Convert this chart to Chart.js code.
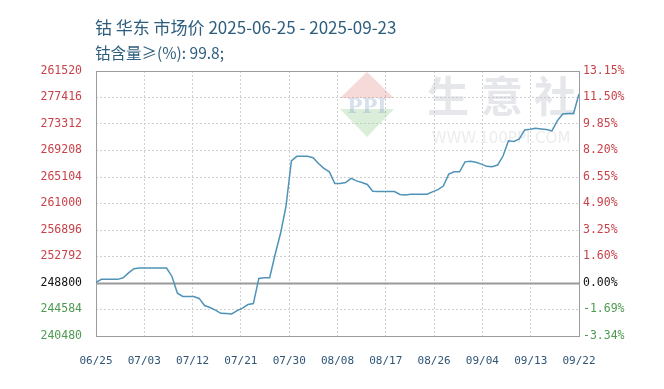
<!DOCTYPE html>
<html>
<head>
<meta charset="utf-8">
<script src="https://cdn.jsdelivr.net/npm/chart.js@4/dist/chart.umd.min.js"></script>
<style>
  html, body { margin: 0; padding: 0; background: #ffffff; }
  #wrap { position: relative; width: 664px; height: 389px; overflow: hidden; }
  canvas { position: absolute; left: 0; top: 0; }
  .t { position: absolute; left: 95px; font-family: "Noto Sans CJK SC", "Noto Sans", sans-serif; color: #2e5e7e; white-space: nowrap; }
  #t1 { top: 16px; font-size: 17px; line-height: 22px; }
  #t2 { top: 41px; font-size: 15.5px; line-height: 22px; }
</style>
</head>
<body>
<div id="wrap">
  <canvas id="c" width="664" height="389"></canvas>
  <div class="t" id="t1">钴 华东 市场价 2025-06-25 - 2025-09-23</div>
  <div class="t" id="t2">钴含量≥(%): 99.8;</div>
</div>
<script>
// ---- data ----
const categories = [
  '06/25','06/26','06/27','06/28','06/29','06/30',
  '07/01','07/02','07/03','07/04','07/05','07/06','07/07','07/08','07/09','07/10',
  '07/11','07/12','07/13','07/14','07/15','07/16','07/17','07/18','07/19','07/20',
  '07/21','07/22','07/23','07/24','07/25','07/26','07/27','07/28','07/29','07/30','07/31',
  '08/01','08/02','08/03','08/04','08/05','08/06','08/07','08/08','08/09','08/10',
  '08/11','08/12','08/13','08/14','08/15','08/16','08/17','08/18','08/19','08/20',
  '08/21','08/22','08/23','08/24','08/25','08/26','08/27','08/28','08/29','08/30','08/31',
  '09/01','09/02','09/03','09/04','09/05','09/06','09/07','09/08','09/09','09/10',
  '09/11','09/12','09/13','09/14','09/15','09/16','09/17','09/18','09/19','09/20','09/21','09/22'
];
const prices = [
  248800, 249250, 249250, 249250, 249250, 249500, 250250, 250900, 251000, 251000,
  251000, 251000, 251000, 251000, 249700, 247100, 246600, 246600, 246600, 246300,
  245200, 244900, 244500, 244000, 243950, 243900, 244400, 244800, 245350, 245500,
  249400, 249500, 249500, 253100, 256350, 260500, 267600, 268300, 268300, 268300,
  268100, 267200, 266450, 265900, 264100, 264100, 264250, 264900, 264500, 264250,
  263950, 262900, 262850, 262850, 262850, 262850, 262400, 262300, 262450, 262450,
  262450, 262450, 262800, 263150, 263700, 265550, 265900, 265900, 267450, 267550,
  267400, 267100, 266750, 266700, 266950, 268350, 270700, 270600, 271000, 272400,
  272500, 272650, 272550, 272450, 272250, 273800, 274850, 274950, 274950, 277950
];
const xTickLabels = ['06/25','07/03','07/12','07/21','07/30','08/08','08/17','08/26','09/04','09/13','09/22'];
// left axis: tick values (bottom to top) and the labels printed on them
const leftTickValues = [240480, 244584, 248688, 252792, 256896, 261000, 265104, 269208, 273312, 277416, 281520];
const leftTickLabels = ['240480','244584','248800','252792','256896','261000','265104','269208','273312','277416','261520'];
// right axis: percent change labels (bottom to top)
const rightTickLabels = ['-3.34%','-1.69%','0.00%','1.60%','3.25%','4.90%','6.55%','8.20%','9.85%','11.50%','13.15%'];
const rightMin = -3.34, rightMax = 13.15;

const RED = '#c8424a', GREEN = '#4f9a52', BLACK = '#111111';
function tickColor(i) { return i < 2 ? GREEN : (i === 2 ? BLACK : RED); }

const xTickPos = xTickLabels.map((_, i) => i * (categories.length - 1) / (xTickLabels.length - 1));

const decor = {
  id: 'decor',
  beforeDatasetsDraw(chart) {
    const { ctx, chartArea: a, scales } = chart;
    ctx.save();
    // watermark logo
    const cx = 367, cy = 101;
    ctx.beginPath(); ctx.moveTo(cx, cy - 29); ctx.lineTo(cx + 27, cy - 3); ctx.lineTo(cx - 27, cy - 3); ctx.closePath();
    ctx.fillStyle = 'rgba(230,150,150,0.35)'; ctx.fill();
    ctx.beginPath(); ctx.moveTo(cx - 27, cy + 8); ctx.lineTo(cx + 27, cy + 8); ctx.lineTo(cx, cy + 36); ctx.closePath();
    ctx.fillStyle = 'rgba(150,205,150,0.35)'; ctx.fill();
    ctx.fillStyle = 'rgba(140,165,200,0.35)';
    ctx.font = 'bold 20px "DejaVu Serif", serif';
    ctx.textAlign = 'center'; ctx.textBaseline = 'middle';
    ctx.fillText('PPI', cx, cy + 7);
    ctx.fillStyle = 'rgba(190,195,205,0.40)';
    ctx.font = 'bold 42px "Noto Sans CJK SC", sans-serif';
    ctx.fillText('生', 448, 96);
    ctx.fillText('意', 502, 96);
    ctx.fillText('社', 555, 96);
    ctx.fillStyle = 'rgba(200,200,205,0.35)';
    ctx.font = '15px "DejaVu Sans", sans-serif';
    ctx.fillText('WWW.100PPI.COM', 501, 139);
    // zero line
    const y0 = Math.round(scales.y.getPixelForValue(leftTickValues[2])) + 0.5;
    ctx.strokeStyle = '#9a9a9a'; ctx.lineWidth = 2;
    ctx.beginPath(); ctx.moveTo(a.left, y0); ctx.lineTo(a.right, y0); ctx.stroke();
    // frame
    ctx.strokeStyle = '#9c9c9c'; ctx.lineWidth = 1;
    ctx.strokeRect(Math.round(a.left) + 0.5, Math.round(a.top) + 0.5, Math.round(a.right - a.left), Math.round(a.bottom - a.top));
    ctx.restore();
  }
};

new Chart(document.getElementById('c'), {
  type: 'line',
  data: {
    datasets: [{
      data: prices.map((v, i) => ({ x: i, y: v })),
      borderColor: '#4f93b8',
      borderWidth: 1.5,
      pointRadius: 0,
      tension: 0,
      fill: false
    }]
  },
  options: {
    responsive: false,
    animation: false,
    devicePixelRatio: 1,
    layout: { padding: { top: 71, left: 0, right: 0, bottom: 0 } },
    plugins: { legend: { display: false }, tooltip: { enabled: false }, title: { display: false } },
    scales: {
      x: {
        type: 'linear',
        min: 0, max: categories.length - 1,
        afterBuildTicks(s) { s.ticks = xTickPos.map(v => ({ value: v })); },
        afterFit(s) { s.height = 53; },
        ticks: {
          autoSkip: false, maxRotation: 0, padding: 19,
          color: '#2f5577',
          font: { family: '"DejaVu Sans Mono", monospace', size: 11 },
          callback: (v, i) => xTickLabels[i]
        },
        grid: { color: '#cfcfcf', lineWidth: 1, drawTicks: false },
        border: { display: false, dash: [2, 2] }
      },
      y: {
        position: 'left',
        min: leftTickValues[0], max: leftTickValues[leftTickValues.length - 1],
        afterBuildTicks(s) { s.ticks = leftTickValues.map(v => ({ value: v })); },
        afterFit(s) { s.width = 96; },
        ticks: {
          padding: 14,
          color: (c) => tickColor(c.index),
          font: { family: '"DejaVu Sans Mono", monospace', size: 11.5 },
          callback: (v, i) => leftTickLabels[i]
        },
        grid: { color: '#cfcfcf', lineWidth: 1, drawTicks: false },
        border: { display: false, dash: [2, 2] }
      },
      y2: {
        position: 'right',
        min: rightMin, max: rightMax,
        afterBuildTicks(s) {
          s.ticks = rightTickLabels.map((_, i) => ({ value: rightMin + i * (rightMax - rightMin) / (rightTickLabels.length - 1) }));
        },
        afterFit(s) { s.width = 85; },
        ticks: {
          padding: 4,
          color: (c) => tickColor(c.index),
          font: { family: '"DejaVu Sans Mono", monospace', size: 11.5 },
          callback: (v, i) => rightTickLabels[i]
        },
        grid: { drawOnChartArea: false, drawTicks: false },
        border: { display: false }
      }
    }
  },
  plugins: [decor]
});
</script>
</body>
</html>
